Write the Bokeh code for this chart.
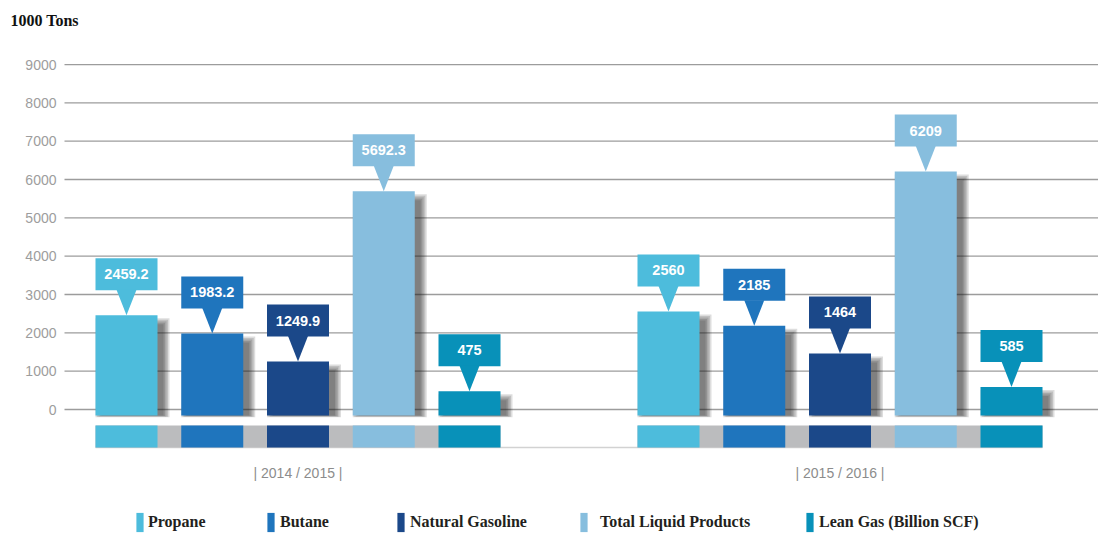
from bokeh.plotting import figure
from bokeh.models import Range1d, Legend, LegendItem, Label
from bokeh.embed import file_html
from bokeh.resources import INLINE
from bokeh.core.properties import value

# ---------------- data ----------------
years = ["2014 / 2015", "2015 / 2016"]
products = ["Propane", "Butane", "Natural Gasoline", "Total Liquid Products", "Lean Gas (Billion SCF)"]
propane = [2459.2, 2560]
butane = [1983.2, 2185]
natural_gasoline = [1249.9, 1464]
total_liquid_products = [5692.3, 6209]
lean_gas = [475, 585]
y_ticks = [0, 1000, 2000, 3000, 4000, 5000, 6000, 7000, 8000, 9000]
y_title = "1000 Tons"

series = [propane, butane, natural_gasoline, total_liquid_products, lean_gas]
colors = ["#4dbcdc", "#1f75bd", "#1b4889", "#87bede", "#0891b9"]
strip_grey = "#bbbcbe"

# ---------------- layout ----------------
W, H = 1098, 534
SLOT = 85.75            # px between neighbouring bars
UPP = 1000 / 38.33      # data units per px (vertical)
ZERO_Y = 409            # px from figure top to the 0 gridline
X0 = 126                # px from figure left to first bar centre
GROUP_STEP = 542 / SLOT
BAR_W = 62 / SLOT
HW = BAR_W / 2


def dx(px):
    return px / SLOT


def dy(px):
    return px * UPP


x_start, x_end = -X0 / SLOT, (W - X0) / SLOT
y_start, y_end = -(H - ZERO_Y) * UPP, ZERO_Y * UPP

p = figure(width=W, height=H, x_range=Range1d(x_start, x_end), y_range=Range1d(y_start, y_end),
           output_backend="svg", toolbar_location=None, x_axis_location=None, y_axis_location=None,
           min_border=0, outline_line_color=None, background_fill_color="white")
p.grid.grid_line_color = None

SANS = value("Liberation Sans")
SERIF = "Liberation Serif"

# gridlines + tick labels
grid_x0 = dx(64 - X0)
p.segment(x0=[grid_x0] * len(y_ticks), x1=[x_end] * len(y_ticks), y0=y_ticks, y1=y_ticks,
          line_color="#9c9c9c", line_width=1.3)
p.text(x=[dx(56 - X0)] * len(y_ticks), y=y_ticks, text=[str(t) for t in y_ticks],
       text_align="right", text_baseline="alphabetic", text_font=SANS, text_font_size="14px",
       text_color="#9d9d9d")

BASE = -dy(6)
STRIP_TOP, STRIP_BOT = -dy(16), -dy(38)
n_groups = len(years)
n_prod = len(products)

# bottom thin line and grey strip
p.segment(x0=[-HW], x1=[(n_groups - 1) * GROUP_STEP + n_prod - 1 + HW], y0=[STRIP_BOT], y1=[STRIP_BOT],
          line_color="#d2d2d2", line_width=1.5)
p.quad(left=[g * GROUP_STEP - HW for g in range(n_groups)],
       right=[g * GROUP_STEP + n_prod - 1 + HW for g in range(n_groups)],
       top=[STRIP_TOP] * n_groups, bottom=[STRIP_BOT] * n_groups,
       fill_color=strip_grey, line_color=None)

# shadows (soft, to the right of each bar)
OX, OY = 6, 9
for k, vals in enumerate(series):
    xs = [g * GROUP_STEP + k for g in range(n_groups)]
    for b in [6, 4.5, 3, 1.5, 0]:
        p.quad(left=[x - HW + dx(OX - b) for x in xs], right=[x + HW + dx(OX + b) for x in xs],
               top=[v - dy(OY - b) for v in vals], bottom=[BASE - dy(b * 0.3)] * n_groups,
               fill_color="#1e1e1e", fill_alpha=0.15, line_color=None)

# bars, strip pieces, callouts
bar_renderers = []
for k, (vals, c) in enumerate(zip(series, colors)):
    xs = [g * GROUP_STEP + k for g in range(n_groups)]
    r = p.vbar(x=xs, width=BAR_W, top=vals, bottom=BASE, fill_color=c, line_color=None)
    bar_renderers.append(r)
    p.vbar(x=xs, width=BAR_W, top=STRIP_TOP, bottom=STRIP_BOT, fill_color=c, line_color=None)
    p.quad(left=[x - HW for x in xs], right=[x + HW for x in xs],
           bottom=[v + dy(25) for v in vals], top=[v + dy(57) for v in vals],
           fill_color=c, line_color=None)
    p.patches(xs=[[x - dx(10), x + dx(10), x] for x in xs],
              ys=[[v + dy(25.5), v + dy(25.5), v] for v in vals],
              fill_color=c, line_color=None)
    p.text(x=xs, y=[v + dy(41) for v in vals], text=[f"{v:g}" for v in vals],
           text_align="center", text_baseline="middle", text_font=SANS, text_font_style="bold",
           text_font_size="14.5px", text_color="white")

# group labels
p.text(x=[g * GROUP_STEP + (n_prod - 1) / 2 for g in range(n_groups)], y=[-dy(63)] * n_groups,
       text=[f"| {y} |" for y in years], text_align="center", text_baseline="middle",
       text_font=SANS, text_font_size="14px", text_color="#8c8c8c")

# axis title
p.add_layout(Label(x=10, y=H - 20, x_units="screen", y_units="screen", text=y_title,
                   text_font=SERIF, text_font_style="bold", text_font_size="16px",
                   text_color="#111111", text_baseline="middle", text_align="left"))

# legends (one per item to reproduce uneven spacing)
leg_x = [135, 266, 396, 579, 805]
leg_standoff = [4, 5, 5, 12, 5]
for name, r, lx, so in zip(products, bar_renderers, leg_x, leg_standoff):
    lg = Legend(items=[LegendItem(label=name, renderers=[r])], location=(lx, 0),
                orientation="horizontal", glyph_width=9, glyph_height=24, label_height=24,
                label_standoff=so, padding=0, margin=0, spacing=0,
                border_line_alpha=0, background_fill_alpha=0,
                label_text_font=SERIF, label_text_font_style="bold", label_text_font_size="16px",
                label_text_color="#231f20")
    p.add_layout(lg, "center")

open("out.html", "w").write(file_html(p, INLINE))
